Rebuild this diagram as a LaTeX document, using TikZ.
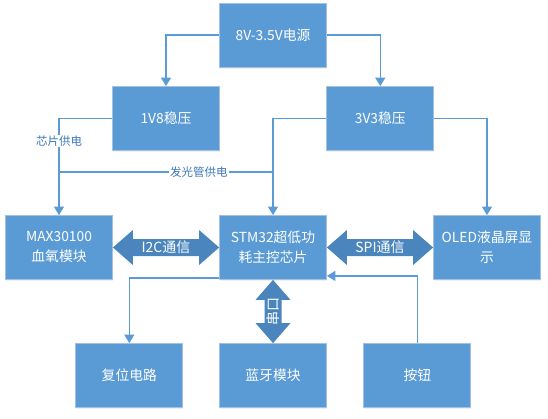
\documentclass[tikz,border=0pt]{standalone}
\usepackage{fontspec}
\setmainfont{Noto Sans CJK SC}
\usetikzlibrary{calc,arrows.meta,shadows}
\definecolor{boxblue}{HTML}{5B9BD5}
\definecolor{boxedge}{HTML}{A3C2E2}
\definecolor{linkblue}{HTML}{5B9BD5}
\definecolor{barblue}{HTML}{4A85BD}
\definecolor{lbltext}{HTML}{3D78B6}
\tikzset{
  blk/.style={draw=boxedge, line width=0.8pt, fill=boxblue, minimum width=107pt, minimum height=64pt,
    inner sep=2pt, text=white, align=center, font=\fontsize{13.8}{20}\selectfont,
    drop shadow={opacity=0.12, shadow xshift=0pt, shadow yshift=-1.5pt}},
  conn/.style={draw=linkblue, line width=1.4pt, -{Triangle[width=10pt,length=8.5pt]}},
  plainline/.style={draw=linkblue, line width=1.4pt},
  lbl/.style={fill=white, text=lbltext, inner sep=1pt, font=\fontsize{11.5}{13}\selectfont},
  barrow/.style={fill=barblue},
  barlbl/.style={text=white, inner sep=0pt, font=\fontsize{14}{15}\selectfont},
}
\begin{document}
\begin{tikzpicture}[x=1pt,y=-1pt]
\useasboundingbox (0,0) rectangle (548,418);
% boxes
\node[blk] (src) at (273,35) {8V-3.5V电源};
\node[blk] (v18) at (166,118.5) {1V8稳压};
\node[blk] (v33) at (380.3,118.5) {3V3稳压};
\node[blk] (max) at (59,247.5) {MAX30100\\血氧模块};
\node[blk] (stm) at (273,247.5) {STM32超低功\\耗主控芯片};
\node[blk] (oled) at (487,247.5) {OLED液晶屏显\\示};
\node[blk] (rst) at (129.3,375.5) {复位电路};
\node[blk] (bt) at (273,375.5) {蓝牙模块};
\node[blk] (btn) at (417.3,375.5) {按钮};
% power connectors
\draw[conn] (src.west) -| (v18.north);
\draw[conn] (src.east) -| (v33.north);
\draw[conn] (v18.west) -| (max.north) node[pos=0.616, lbl] {芯片供电};
\draw[conn] (v33.west) -| (stm.north);
\draw[conn] (v33.east) -| (oled.north);
\coordinate (ja) at (max.north |- 0,172);
\coordinate (jb) at (stm.north |- 0,172);
\draw[plainline] (ja) -- (jb) node[pos=0.654, lbl] {发光管供电};
% reset and button
\draw[conn] ($(stm.south west)+(0,-2)$) -| (rst.north);
\draw[conn] (btn.north) |- ($(stm.south east)+(0,-4)$);
% I2C block arrow
\fill[barrow] (max.east) -- ++(20,-17.5) -- ++(0,9) -- ($(stm.west)+(-20,-8.5)$) -- ++(0,-9) -- (stm.west)
  -- ++(-20,17.5) -- ++(0,-9) -- ($(max.east)+(20,8.5)$) -- ++(0,9) -- cycle;
\node[barlbl] (i2c) at ($(max.east)!0.5!(stm.west)$) {I2C通信};
% SPI block arrow
\fill[barrow] (stm.east) -- ++(20,-17.5) -- ++(0,9) -- ($(oled.west)+(-20,-8.5)$) -- ++(0,-9) -- (oled.west)
  -- ++(-20,17.5) -- ++(0,-9) -- ($(stm.east)+(20,8.5)$) -- ++(0,9) -- cycle;
\node[barlbl] (spi) at ($(stm.east)!0.5!(oled.west)$) {SPI通信};
% UART block arrow
\fill[barrow] (stm.south) -- ++(17.5,20) -- ++(-9,0) -- ($(bt.north)+(8.5,-20)$) -- ++(9,0) -- (bt.north)
  -- ++(-17.5,-20) -- ++(9,0) -- ($(stm.south)+(-8.5,20)$) -- ++(-9,0) -- cycle;
\node[barlbl, rotate=90] (uart) at ($(stm.south)!0.5!(bt.north)$) {串口};
\end{tikzpicture}
\end{document}
